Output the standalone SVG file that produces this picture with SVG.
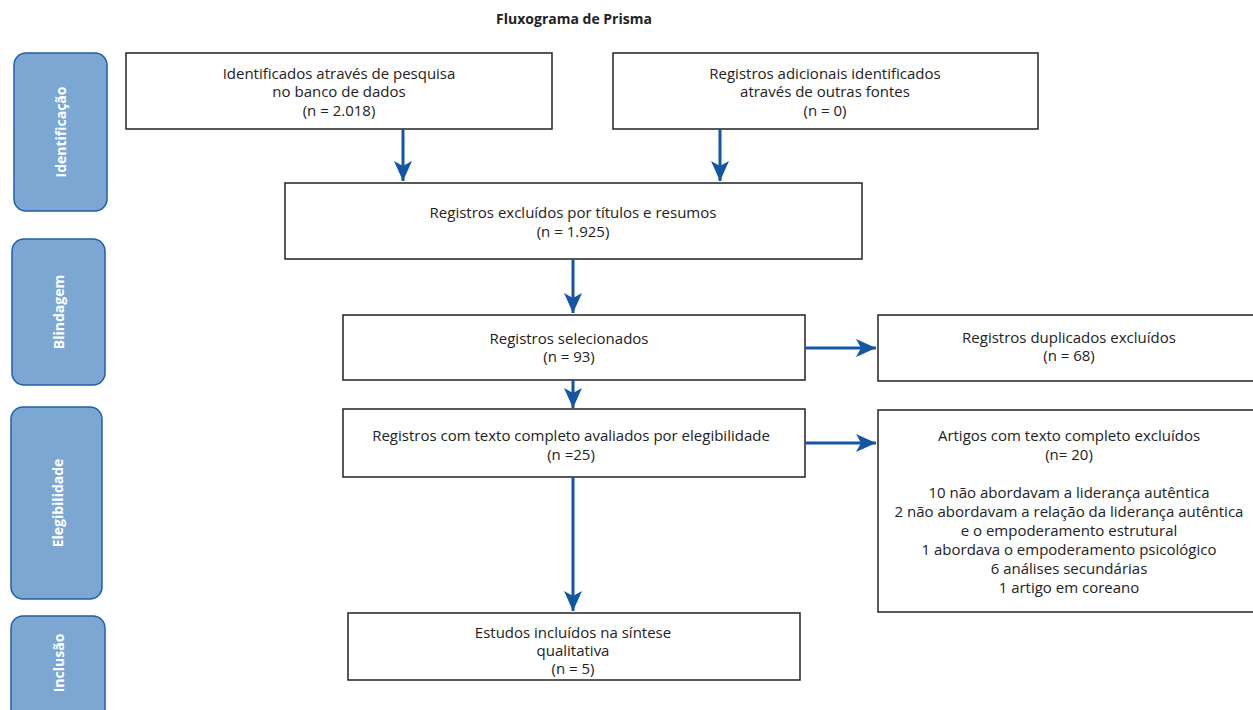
<svg xmlns="http://www.w3.org/2000/svg" width="1253" height="710" viewBox="0 0 1253 710">
<defs>
<marker id="ah" markerUnits="userSpaceOnUse" markerWidth="20" markerHeight="20" viewBox="0 0 20 20" refX="20" refY="10" orient="auto">
<path d="M0,1 L20,10 L0,19 L5,10 Z" fill="#1555a5"/>
</marker>
<style>
.box{fill:#fff;stroke:#222;stroke-width:1.5}
.side{fill:#7ba7d2;stroke:#1f5fa8;stroke-width:1.5}
.t{font-family:"Open Sans","Noto Sans",sans-serif;font-size:15px;fill:#222;text-anchor:middle}
.s{font-family:"Open Sans","Noto Sans",sans-serif;font-size:14px;font-weight:bold;fill:#fff;text-anchor:middle}
.c{stroke:#1555a5;stroke-width:3;fill:none;marker-end:url(#ah)}
</style>
</defs>
<rect width="1253" height="710" fill="#fff"/>
<text x="574" y="24" class="t" style="font-weight:bold;font-size:14px">Fluxograma de Prisma</text>

<g id="stage-identificacao">
<rect class="side" x="14" y="53" width="93" height="158" rx="12"/>
<text class="s" transform="translate(66,132) rotate(-90)">Identificação</text>
</g>
<g id="stage-blindagem">
<rect class="side" x="12" y="239" width="93" height="146" rx="12"/>
<text class="s" transform="translate(64,312) rotate(-90)">Blindagem</text>
</g>
<g id="stage-elegibilidade">
<rect class="side" x="11" y="407" width="91" height="192" rx="12"/>
<text class="s" transform="translate(63,503) rotate(-90)">Elegibilidade</text>
</g>
<g id="stage-inclusao">
<rect class="side" x="11" y="616" width="94" height="110" rx="12"/>
<text class="s" transform="translate(64,663) rotate(-90)">Inclusão</text>
</g>

<g id="n1">
<rect class="box" x="126" y="53" width="426" height="76"/>
<text class="t" x="339" y="79">Identificados através de pesquisa</text>
<text class="t" x="339" y="97">no banco de dados</text>
<text class="t" x="339" y="116">(n = 2.018)</text>
</g>
<g id="n2">
<rect class="box" x="613" y="53" width="425" height="76"/>
<text class="t" x="825" y="79">Registros adicionais identificados</text>
<text class="t" x="825" y="97">através de outras fontes</text>
<text class="t" x="825" y="116">(n = 0)</text>
</g>
<g id="n3">
<rect class="box" x="285" y="183" width="577" height="76"/>
<text class="t" x="573" y="218">Registros excluídos por títulos e resumos</text>
<text class="t" x="573" y="237">(n = 1.925)</text>
</g>
<g id="n4">
<rect class="box" x="343" y="315" width="462" height="65"/>
<text class="t" x="569" y="344">Registros selecionados</text>
<text class="t" x="569" y="362">(n = 93)</text>
</g>
<g id="n5">
<rect class="box" x="878" y="315" width="377" height="66"/>
<text class="t" x="1069" y="343">Registros duplicados excluídos</text>
<text class="t" x="1069" y="361">(n = 68)</text>
</g>
<g id="n6">
<rect class="box" x="343" y="409" width="462" height="68"/>
<text class="t" x="571" y="441">Registros com texto completo avaliados por elegibilidade</text>
<text class="t" x="571" y="460">(n =25)</text>
</g>
<g id="n7">
<rect class="box" x="878" y="410" width="377" height="202"/>
<text class="t" x="1069" y="441">Artigos com texto completo excluídos</text>
<text class="t" x="1069" y="460">(n= 20)</text>
<text class="t" x="1069" y="498">10 não abordavam a liderança autêntica</text>
<text class="t" x="1069" y="517">2 não abordavam a relação da liderança autêntica</text>
<text class="t" x="1069" y="536">e o empoderamento estrutural</text>
<text class="t" x="1069" y="555">1 abordava o empoderamento psicológico</text>
<text class="t" x="1069" y="574">6 análises secundárias</text>
<text class="t" x="1069" y="593">1 artigo em coreano</text>
</g>
<g id="n8">
<rect class="box" x="348" y="613" width="452" height="67"/>
<text class="t" x="573" y="638">Estudos incluídos na síntese</text>
<text class="t" x="573" y="656">qualitativa</text>
<text class="t" x="573" y="674">(n = 5)</text>
</g>

<g id="connectors">
<path class="c" d="M403,129 V181"/>
<path class="c" d="M720,129 V181"/>
<path class="c" d="M573,259 V313"/>
<path class="c" d="M805,348 H876"/>
<path class="c" d="M573,380 V408"/>
<path class="c" d="M805,443 H876"/>
<path class="c" d="M573,477 V611"/>
</g>
</svg>
